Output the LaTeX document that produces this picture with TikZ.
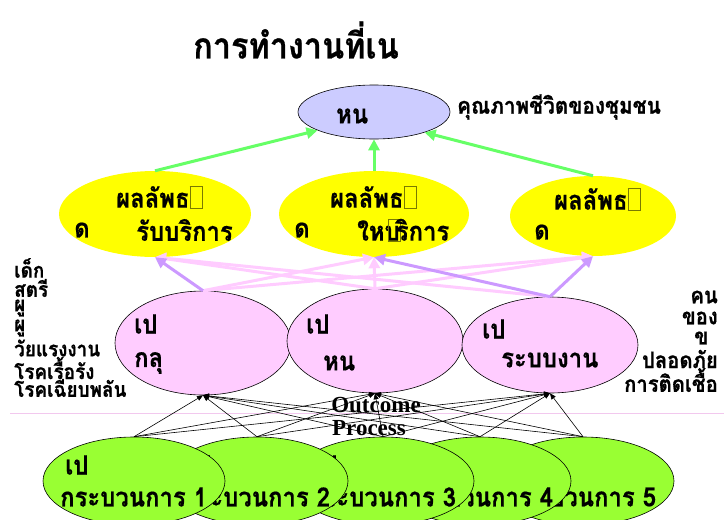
\documentclass[tikz,border=0pt]{standalone}
\usepackage{fontspec}
\setmainfont{Liberation Serif}
\newfontfamily\thai[Script=Thai, FakeStretch=0.9, BoldFeatures={FakeBold=0.6}]{Loma}
\usetikzlibrary{arrows.meta,shapes.geometric}
\definecolor{lav}{HTML}{CCCCFF}
\definecolor{yel}{HTML}{FFFF00}
\definecolor{pnk}{HTML}{FFCCFF}
\definecolor{pur}{HTML}{CC99FF}
\definecolor{grnA}{HTML}{66FF66}
\definecolor{lime}{HTML}{99FF33}
\definecolor{boxc}{HTML}{7A7A00}
\definecolor{hline}{HTML}{F2C8EE}
\newcommand{\missbox}{\textcolor{boxc}{\fboxsep=0pt\fboxrule=0.7pt\fbox{\rule{0pt}{0.8em}\hspace{0.45em}}}}
\tikzset{
  th/.style={font=\thai\bfseries\fontsize{26.5}{28}\selectfont, inner sep=0pt, anchor=west},
  ths/.style={font=\thai\bfseries\fontsize{23}{25}\selectfont, inner sep=0pt, anchor=west},
  thl/.style={font=\thai\bfseries\fontsize{21}{23}\selectfont, inner sep=0pt, anchor=west},
  thr/.style={font=\thai\bfseries\fontsize{22.5}{24}\selectfont, inner sep=0pt, anchor=east},
  topell/.style={ellipse, draw=black, line width=0.6pt, fill=lav, minimum width=152pt, minimum height=54pt, inner sep=0pt},
  yell/.style={ellipse, fill=yel, inner sep=0pt},
  pell/.style={ellipse, draw=black, line width=0.6pt, fill=pnk, minimum width=176pt, minimum height=104pt, inner sep=0pt},
  gell/.style={ellipse, draw=black, line width=0.6pt, fill=lime, minimum width=182pt, minimum height=88pt, inner sep=0pt},
  garr/.style={draw=grnA, line width=3pt, -{Triangle[length=11pt,width=11pt]}},
  parr/.style={draw=pnk, line width=3pt, -{Triangle[length=11pt,width=11pt]}},
  uarr/.style={draw=pur, line width=3pt, -{Triangle[length=11pt,width=11pt]}},
  barr/.style={draw=black, line width=0.6pt, -{Triangle[length=6pt,width=5pt]}},
  serif/.style={font=\bfseries\fontsize{23}{24}\selectfont, inner sep=0pt},
}
\begin{document}
\begin{tikzpicture}[x=1pt,y=-1pt]
\useasboundingbox[fill=white] (0,0) rectangle (724,520);
% title
\node[font=\thai\bfseries\fontsize{36}{38}\selectfont, inner sep=0pt] (title) at (296,40) {การทำงานที่เน};
% top ellipse
\node[topell] (top) at (374,112) {};
\node[th] (topt) at (336,116) {หน};
\node[ths] (lbl) at (457,107) {คุณภาพชีวิตของชุมชน};
% yellow ellipses
\node[yell, minimum width=192pt, minimum height=86pt] (y1) at (155,214) {};
\node[yell, minimum width=190pt, minimum height=86pt] (y2) at (374,214) {};
\node[yell, minimum width=166pt, minimum height=80pt] (y3) at (593,216) {};
\node[th] (y1a) at (116,197) {ผลลัพธ\missbox};
\node[th] (y1b) at (74,230) {ด};
\node[th] (y1c) at (136,230) {รับบริการ};
\node[th] (y2a) at (330,197) {ผลลัพธ\missbox};
\node[th] (y2b) at (294,230) {ด};
\node[th] (y2c) at (357,230) {ใหบ\kern-0.45em\missbox\kern-0.2em ริการ};
\node[th] (y3a) at (554,199) {ผลลัพธ\missbox};
\node[th] (y3b) at (534,232) {ด};
% green arrows
\draw[garr] (y1.north) -- (top.198);
\draw[garr] (y2.north) -- (top.south);
\draw[garr] (y3.north) -- (top.-22);
% pink ellipses
\node[pell] (p1) at (203,343) {};
\node[pell] (p2) at (375,341) {};
\node[pell, minimum height=96pt] (p3) at (550,345) {};
\node[th] (p1a) at (134,324) {เป};
\node[th] (p1b) at (134,363) {กลุ};
\node[th] (p2a) at (306,324) {เป};
\node[th] (p2b) at (323,363) {หน};
\node[th] (p3a) at (482,329) {เป};
\node[th] (p3b) at (501,360) {ระบบงาน};
% pink / purple arrows
\draw[parr] (p1.north) -- (y2.south);
\draw[parr] (p1.north) -- (y3.south);
\draw[parr] (p2.north) -- (y1.south);
\draw[parr] (p2.north) -- (y3.south);
\draw[parr] (p3.north) -- (y1.south);
\draw[parr] (p2.north) -- (y2.south);
\draw[uarr] (p1.north) -- (y1.south);
\draw[uarr] (p3.north) -- (y2.south);
\draw[uarr] (p3.north) -- (y3.south);
% side lists
\node[thl] (l1) at (14,268) {เด็ก};
\node[thl] (l2) at (14,288) {สตรี};
\node[thl] (l3) at (14,308) {ผู};
\node[thl] (l4) at (14,328) {ผู};
\node[thl] (l5) at (14,348) {วัยแรงงาน};
\node[thl] (l6) at (14,368) {โรคเรื้อรัง};
\node[thl] (l7) at (14,388) {โรคเฉียบพลัน};
\node[thr] (r1) at (718,297) {คน};
\node[thr] (r2) at (718,318) {ของ};
\node[ths] (r3) at (694,338) {ข};
\node[thr] (r4) at (718,359) {ปลอดภัย};
\node[thr] (r5) at (718,380) {การติดเชื้อ};
% separator line
\draw[draw=hline, line width=0.8pt] (10,413) -- (724,413);
% green process ellipses, drawn back to front
\node[gell] (g5) at (583,481) {};
\node[th] (g5a) at (514,465) {เป};
\node[th] (g5b) at (509,497) {กระบวนการ 5};
\node[gell] (g4) at (480,481) {};
\node[th] (g4a) at (411,465) {เป};
\node[th] (g4b) at (406,497) {กระบวนการ 4};
\node[gell] (g3) at (383,481) {};
\node[th] (g3a) at (314,465) {เป};
\node[th] (g3b) at (309,497) {กระบวนการ 3};
\node[gell] (g2) at (257,481) {};
\node[th] (g2a) at (188,465) {เป};
\node[th] (g2b) at (183,497) {กระบวนการ 2};
\node[gell] (g1) at (134,481) {};
\node[th] (g1a) at (65,465) {เป};
\node[th] (g1b) at (60,497) {กระบวนการ 1};
% black arrows
\foreach \g in {g1,g2,g3,g4,g5}{
  \foreach \p in {p1,p2,p3}{
    \draw[barr] (\g.north) -- (\p.south);
  }
}
\node[serif] (outc) at (376,405) {Outcome};
\node[serif] (proc) at (369,428) {Process};
\end{tikzpicture}
\end{document}
